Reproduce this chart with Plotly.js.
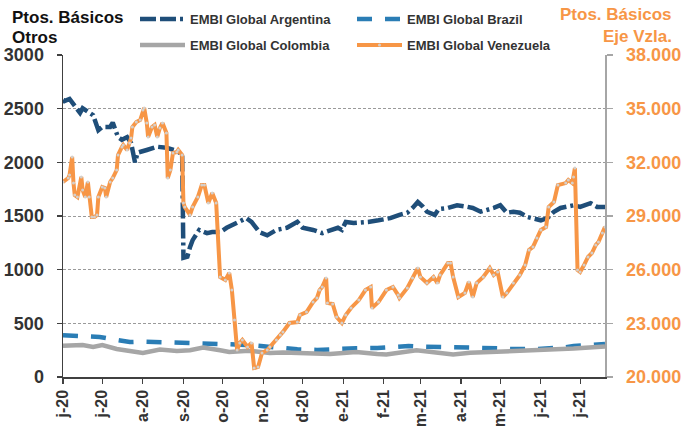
<!DOCTYPE html>
<html><head><meta charset="utf-8">
<script src="https://cdn.plot.ly/plotly-3.0.1.min.js"></script>
<style>html,body{margin:0;padding:0;background:#fff}#chart{width:682px;height:426px}</style>
</head><body><div id="chart"></div>
<script>
// ---- data ----
const argDates = ['2020-06-01','2020-06-02','2020-06-06','2020-06-08','2020-06-11','2020-06-14','2020-06-16','2020-06-21','2020-06-24','2020-06-28','2020-07-01','2020-07-07','2020-07-09','2020-07-13','2020-07-16','2020-07-20','2020-07-23','2020-07-26','2020-07-28','2020-08-04','2020-08-12','2020-08-19','2020-08-25','2020-08-29','2020-08-31','2020-09-01','2020-09-04','2020-09-06','2020-09-08','2020-09-13','2020-09-19','2020-09-23','2020-09-29','2020-10-04','2020-10-12','2020-10-19','2020-10-23','2020-10-29','2020-11-04','2020-11-11','2020-11-19','2020-11-27','2020-12-01','2020-12-09','2020-12-16','2020-12-24','2020-12-28','2020-12-31','2021-01-03','2021-01-09','2021-01-15','2021-01-20','2021-01-28','2021-02-06','2021-02-13','2021-02-19','2021-02-23','2021-02-27','2021-03-03','2021-03-06','2021-03-12','2021-03-15','2021-03-22','2021-03-29','2021-04-06','2021-04-10','2021-04-16','2021-04-21','2021-04-26','2021-05-01','2021-05-06','2021-05-11','2021-05-16','2021-05-22','2021-05-26','2021-06-01','2021-06-06','2021-06-11','2021-06-16','2021-06-21','2021-06-26','2021-07-01','2021-07-09','2021-07-14','2021-07-20'];
const argValues = [2580,2570,2590,2560,2510,2460,2505,2470,2440,2300,2330,2330,2370,2235,2210,2235,2180,2000,2090,2115,2145,2135,2115,2090,2080,1110,1120,1210,1275,1370,1340,1350,1350,1390,1435,1480,1445,1350,1320,1370,1390,1445,1390,1370,1340,1370,1390,1370,1445,1435,1435,1445,1460,1480,1510,1530,1575,1630,1585,1540,1510,1565,1575,1600,1585,1575,1540,1555,1575,1600,1530,1540,1530,1490,1480,1460,1480,1540,1575,1585,1600,1585,1620,1585,1585];

const braDates = ['2020-06-01','2020-06-16','2020-06-29','2020-07-12','2020-07-22','2020-08-01','2020-08-14','2020-08-27','2020-09-06','2020-09-16','2020-09-29','2020-10-06','2020-10-21','2020-11-06','2020-11-16','2020-11-27','2020-12-12','2020-12-22','2021-01-03','2021-01-11','2021-01-27','2021-02-03','2021-02-20','2021-02-26','2021-03-16','2021-03-26','2021-04-08','2021-04-29','2021-05-03','2021-05-23','2021-05-29','2021-06-19','2021-06-26','2021-07-20'];
const braValues = [390,380,373,345,326,330,326,320,317,312,317,305,298,280,270,258,252,258,270,268,270,278,289,285,280,275,280,268,261,258,261,275,289,307];

const colDates = ['2020-06-01','2020-06-16','2020-06-24','2020-07-01','2020-07-12','2020-07-22','2020-08-01','2020-08-14','2020-08-27','2020-09-06','2020-09-16','2020-09-29','2020-10-06','2020-10-21','2020-11-06','2020-11-16','2020-11-27','2020-12-12','2020-12-22','2021-01-01','2021-01-11','2021-01-27','2021-02-03','2021-02-26','2021-03-16','2021-03-26','2021-04-08','2021-04-29','2021-05-23','2021-06-19','2021-06-26','2021-07-20'];
const colValues = [290,298,280,298,261,245,224,255,242,250,275,250,233,245,224,228,224,214,214,224,233,215,210,248,225,210,225,233,250,260,265,285];

const venDates = ['2020-06-01','2020-06-05','2020-06-06','2020-06-08','2020-06-09','2020-06-10','2020-06-12','2020-06-15','2020-06-16','2020-06-18','2020-06-20','2020-06-21','2020-06-23','2020-06-25','2020-06-27','2020-06-28','2020-07-01','2020-07-03','2020-07-04','2020-07-07','2020-07-09','2020-07-12','2020-07-13','2020-07-16','2020-07-17','2020-07-20','2020-07-22','2020-07-23','2020-07-24','2020-07-27','2020-07-30','2020-08-01','2020-08-02','2020-08-04','2020-08-05','2020-08-08','2020-08-10','2020-08-12','2020-08-14','2020-08-16','2020-08-19','2020-08-20','2020-08-22','2020-08-24','2020-08-27','2020-08-28','2020-08-31','2020-09-01','2020-09-02','2020-09-06','2020-09-08','2020-09-12','2020-09-15','2020-09-17','2020-09-20','2020-09-23','2020-09-26','2020-09-29','2020-10-03','2020-10-06','2020-10-08','2020-10-10','2020-10-12','2020-10-14','2020-10-16','2020-10-20','2020-10-23','2020-10-25','2020-10-28','2020-10-31','2020-11-04','2020-11-06','2020-11-11','2020-11-14','2020-11-16','2020-11-21','2020-11-27','2020-11-29','2020-12-04','2020-12-09','2020-12-12','2020-12-14','2020-12-16','2020-12-19','2020-12-20','2020-12-24','2020-12-27','2020-12-31','2021-01-03','2021-01-07','2021-01-13','2021-01-18','2021-01-22','2021-01-23','2021-01-28','2021-02-03','2021-02-08','2021-02-12','2021-02-13','2021-02-19','2021-02-23','2021-02-27','2021-03-01','2021-03-06','2021-03-11','2021-03-14','2021-03-16','2021-03-22','2021-03-24','2021-03-26','2021-03-30','2021-04-04','2021-04-07','2021-04-10','2021-04-13','2021-04-18','2021-04-23','2021-04-26','2021-04-29','2021-05-03','2021-05-06','2021-05-11','2021-05-16','2021-05-20','2021-05-23','2021-05-26','2021-05-29','2021-06-01','2021-06-05','2021-06-07','2021-06-11','2021-06-14','2021-06-20','2021-06-22','2021-06-25','2021-06-26','2021-06-27','2021-06-29','2021-07-01','2021-07-04','2021-07-07','2021-07-10','2021-07-13','2021-07-15','2021-07-18','2021-07-20'];
const venValues = [30900,31120,31290,32300,30850,30170,30060,31180,30450,30060,30900,30060,28940,28940,29060,30060,30620,30570,30060,30900,31120,31570,32410,32860,32970,32690,33080,33360,33975,34250,34370,34930,35040,34200,33420,33975,34090,33420,33920,34200,33640,31120,31570,32520,32580,32690,32410,29730,29500,29060,29500,30060,30730,30730,29730,30290,29730,25590,25420,25810,24860,23190,21510,21900,22070,21680,21900,20500,20560,21340,21510,21680,22070,22350,22520,23020,23070,23470,23630,24190,24420,24860,25030,25530,24140,24080,23350,23020,23470,23860,24300,24860,25030,23860,24190,24860,25030,24580,24420,24980,25530,26090,25590,25250,25590,25250,25700,26370,26370,25590,24470,24700,25310,24470,25250,25590,26090,25700,25870,24470,24700,25250,25700,26260,27100,27270,27770,28220,28390,29500,29780,30730,30840,31010,30840,31180,31680,25980,25870,26260,26710,26930,27380,27550,28050,28390];

const seriesNames = ['EMBI Global Argentina','EMBI Global Brazil','EMBI Global Colombia','EMBI Global Venezuela'];

const xTickVals = ['2020-06-01','2020-07-01','2020-08-01','2020-09-01','2020-10-01','2020-11-01','2020-12-01','2021-01-01','2021-02-01','2021-03-01','2021-04-01','2021-05-01','2021-06-01','2021-07-01'];
const xTickText = ['j-20','j-20','a-20','s-20','o-20','n-20','d-20','e-21','f-21','m-21','a-21','m-21','j-21','j-21'];
const leftTickVals = [0,500,1000,1500,2000,2500,3000];
const leftTickText = ['0','500','1000','1500','2000','2500','3000'];
const rightTickVals = [20000,23000,26000,29000,32000,35000,38000];
const rightTickText = ['20.000','23.000','26.000','29.000','32.000','35.000','38.000'];
const leftTitleLines = ['Ptos. Básicos', 'Otros'];
const rightTitleLines = ['Ptos. Básicos', 'Eje Vzla.'];

// ---- layout helpers (pixel -> paper) ----
const W = 682, H = 426, M = {l:63, r:77, t:55, b:49};
const PW = W - M.l - M.r, PH = H - M.t - M.b;
const px = x => (x - M.l) / PW;
const py = y => (H - M.b - y) / PH;

const FONT = 'Liberation Sans, Arial, sans-serif';
const ORANGE = '#F79646';

const traces = [
  {x: argDates, y: argValues, name: seriesNames[0], type: 'scatter', mode: 'lines',
   line: {color: '#1F4E79', width: 4.5, dash: '16px,4px,16px,4px,3px,4px'}, legend: 'legend'},
  {x: braDates, y: braValues, name: seriesNames[1], type: 'scatter', mode: 'lines',
   line: {color: '#2A7DB5', width: 4.5, dash: '15px,13px'}, legend: 'legend'},
  {x: colDates, y: colValues, name: seriesNames[2], type: 'scatter', mode: 'lines',
   line: {color: '#A6A6A6', width: 4.5}, legend: 'legend2'},
  {x: venDates, y: venValues, name: seriesNames[3], type: 'scatter', mode: 'lines+markers', yaxis: 'y2',
   line: {color: ORANGE, width: 4},
   marker: {size: 3, color: '#D4D0CC', line: {width: 0}}, legend: 'legend2'}
];

const legendCommon = {
  orientation: 'h', xanchor: 'left', yanchor: 'middle',
  font: {family: FONT, size: 13, color: '#333333', weight: 'bold'},
  itemwidth: 45, entrywidth: 157, entrywidthmode: 'pixels',
  bgcolor: 'rgba(0,0,0,0)', borderwidth: 0, traceorder: 'normal'
};

function titleAnn(text, xPix, yPix, anchor, color) {
  return {xref: 'paper', yref: 'paper', x: px(xPix), y: py(yPix), xanchor: anchor, yanchor: 'middle',
    text: text, showarrow: false, font: {family: FONT, size: 17, color: color, weight: 'bold'}};
}

const layout = {
  width: W, height: H,
  margin: {l: M.l, r: M.r, t: M.t, b: M.b, pad: 0, autoexpand: false},
  paper_bgcolor: '#fff', plot_bgcolor: '#fff',
  font: {family: FONT, color: '#333333'},
  showlegend: true,
  legend: Object.assign({x: px(135), y: py(19)}, legendCommon),
  legend2: Object.assign({x: px(135), y: py(45)}, legendCommon),
  xaxis: {
    type: 'date', range: ['2020-06-01', '2021-07-20'],
    tickmode: 'array', tickvals: xTickVals, ticktext: xTickText, tickangle: -90,
    tickfont: {family: FONT, size: 16, color: '#333333', weight: 'bold'},
    showline: true, linecolor: '#404040', linewidth: 1.5,
    ticks: 'outside', ticklen: 5, tickcolor: '#404040', tickwidth: 1.2,
    showgrid: false, zeroline: false, fixedrange: true
  },
  yaxis: {
    range: [0, 3000], tickmode: 'array', tickvals: leftTickVals, ticktext: leftTickText,
    tickfont: {family: FONT, size: 18, color: '#333333', weight: 'bold'},
    showline: true, linecolor: '#404040', linewidth: 1.5,
    ticks: 'outside', ticklen: 5, tickcolor: '#404040', tickwidth: 1.2, ticklabelstandoff: 9,
    showgrid: true, gridcolor: '#9A9A9A', gridwidth: 1, griddash: '3px,2px',
    zeroline: false, fixedrange: true
  },
  yaxis2: {
    overlaying: 'y', side: 'right', range: [20000, 38000],
    tickmode: 'array', tickvals: rightTickVals, ticktext: rightTickText,
    tickfont: {family: FONT, size: 18, color: ORANGE, weight: 'bold'},
    showline: true, linecolor: '#A6A6A6', linewidth: 1.5,
    ticks: 'outside', ticklen: 6, tickcolor: '#A6A6A6', tickwidth: 1.2, ticklabelstandoff: 10,
    showgrid: false, zeroline: false, fixedrange: true
  },
  annotations: [
    titleAnn(leftTitleLines[0], 10, 17, 'left', '#111111'),
    titleAnn(leftTitleLines[1], 10, 37, 'left', '#111111'),
    titleAnn(rightTitleLines[0], 674, 15, 'right', ORANGE),
    titleAnn(rightTitleLines[1], 674, 36, 'right', ORANGE)
  ]
};

Plotly.newPlot('chart', traces, layout, {displayModeBar: false, staticPlot: true});
</script>
</body></html>
